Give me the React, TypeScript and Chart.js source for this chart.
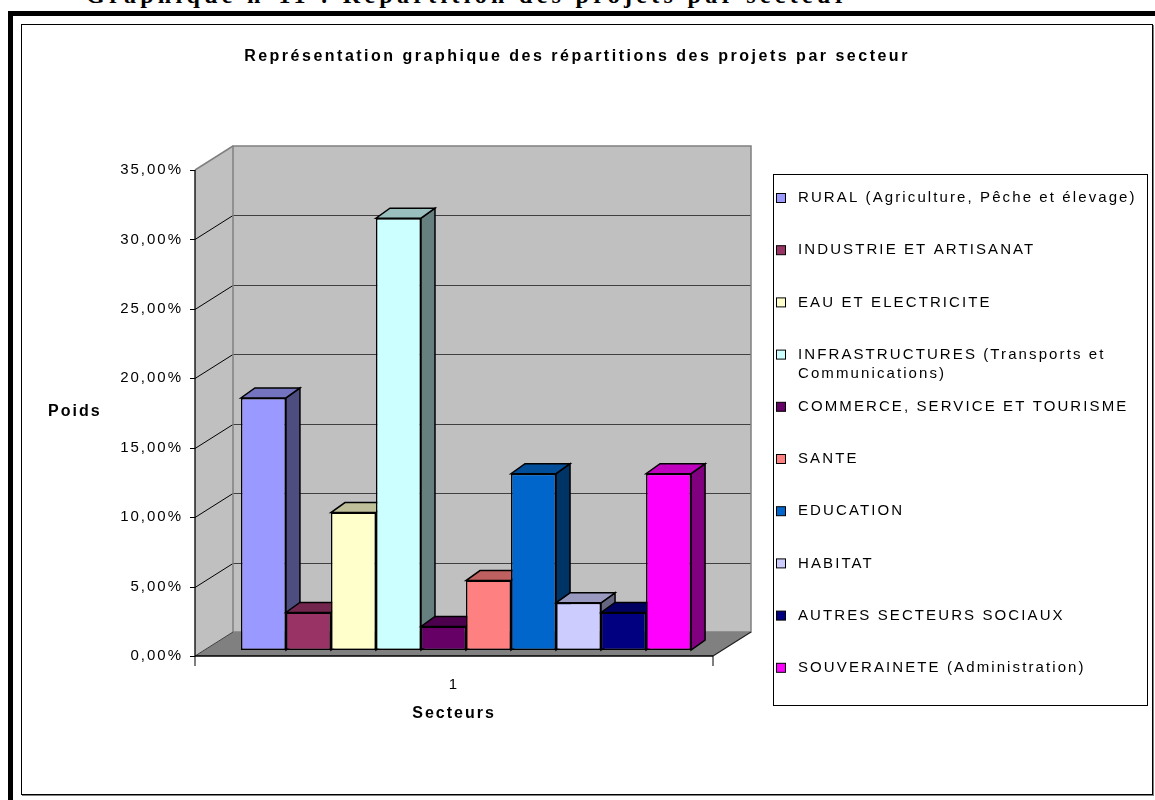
import React, { useEffect, useRef } from 'react';
import { Chart, registerables } from 'chart.js';

Chart.register(...registerables);

// ---------- data ----------
const pageHeading = 'Graphique n°11 : Répartition des projets par secteur';
const chartTitle = 'Représentation graphique des répartitions des projets par secteur';
const yAxisTitle = 'Poids';
const xAxisTitle = 'Secteurs';
const categories = ['1'];
const sectorLabels = [
  'RURAL (Agriculture, Pêche et élevage)',
  'INDUSTRIE ET ARTISANAT',
  'EAU ET ELECTRICITE',
  'INFRASTRUCTURES (Transports et\nCommunications)',
  'COMMERCE, SERVICE ET TOURISME',
  'SANTE',
  'EDUCATION',
  'HABITAT',
  'AUTRES SECTEURS SOCIAUX',
  'SOUVERAINETE (Administration)',
];
const sectorWeights = [0.1815, 0.027, 0.099, 0.311, 0.017, 0.05, 0.127, 0.034, 0.027, 0.127];
const sectorColors = [
  '#9999FF', '#993366', '#FFFFCC', '#CCFFFF', '#660066',
  '#FF8080', '#0066CC', '#CCCCFF', '#000080', '#FF00FF',
];
const yMin = 0;
const yMax = 0.35;
const yStep = 0.05;

// ---------- style / geometry ----------
const FONT = "'Liberation Sans', Arial, sans-serif";
const WALL = { dx: 38, dy: -24 };
const BAR_SHIFT = { dx: 12, dy: -6 };
const BAR_DEPTH = { dx: 14, dy: -10 };
const LEGEND_BOX = { x: 773, y: 174, w: 374, h: 531 };

function shade(hex: string, f: number) {
  const n = parseInt(hex.slice(1), 16);
  const r = Math.round(((n >> 16) & 255) * f);
  const g = Math.round(((n >> 8) & 255) * f);
  const b = Math.round((n & 255) * f);
  return `rgb(${r},${g},${b})`;
}

function fmtPct(v: number) {
  return (v * 100).toFixed(2).replace('.', ',') + '%';
}

function poly(ctx: CanvasRenderingContext2D, pts: number[][], fill?: string, stroke?: string, lw = 1) {
  ctx.beginPath();
  pts.forEach(([x, y], i) => (i ? ctx.lineTo(x, y) : ctx.moveTo(x, y)));
  ctx.closePath();
  if (fill) { ctx.fillStyle = fill; ctx.fill(); }
  if (stroke) { ctx.strokeStyle = stroke; ctx.lineWidth = lw; ctx.stroke(); }
}

function line(ctx: CanvasRenderingContext2D, x1: number, y1: number, x2: number, y2: number, color: string, lw = 1) {
  ctx.beginPath();
  ctx.moveTo(x1, y1);
  ctx.lineTo(x2, y2);
  ctx.strokeStyle = color;
  ctx.lineWidth = lw;
  ctx.stroke();
}

const excel3d = {
  id: 'excel3d',
  beforeDraw(chart: any) {
    (chart.ctx as any).letterSpacing = '2px';
  },
  beforeDatasetsDraw(chart: any) {
    const ctx: CanvasRenderingContext2D = chart.ctx;
    const a = chart.chartArea;
    const ys = chart.scales.y;
    const L = a.left, R = a.right;
    const y0 = ys.getPixelForValue(yMin);
    const yT = ys.getPixelForValue(yMax);
    const { dx, dy } = WALL;
    ctx.save();
    // side wall
    poly(ctx, [[L, y0], [L, yT], [L + dx, yT + dy], [L + dx, y0 + dy]], '#c0c0c0');
    // back wall
    ctx.fillStyle = '#c0c0c0';
    ctx.fillRect(L + dx, yT + dy, R - L, y0 - yT);
    // floor
    poly(ctx, [[L, y0], [R, y0], [R + dx, y0 + dy], [L + dx, y0 + dy]], '#808080');
    // grid lines
    ys.ticks.forEach((t: any) => {
      if (t.value <= yMin || t.value >= yMax) return;
      const py = Math.round(ys.getPixelForValue(t.value)) + 0.5;
      line(ctx, L, py, L + dx, py + dy, '#000', 1);
      line(ctx, L + dx, py + dy, R + dx, py + dy, '#404040', 1.2);
    });
    // wall outlines
    line(ctx, L, yT, L + dx, yT + dy, '#808080', 1.5);
    ctx.strokeStyle = '#808080';
    ctx.lineWidth = 1.5;
    ctx.strokeRect(L + dx, yT + dy, R - L, y0 - yT);
    // floor edges
    line(ctx, L, y0, L + dx, y0 + dy, '#404040', 1);
    line(ctx, R, y0, R + dx, y0 + dy, '#202020', 1.2);
    // front axes
    line(ctx, L, yT, L, y0, '#000', 1.3);
    ys.ticks.forEach((t: any) => {
      const py = Math.round(ys.getPixelForValue(t.value)) + 0.5;
      line(ctx, L - 5, py, L, py, '#000', 1);
    });
    line(ctx, L, y0, R, y0, '#000', 1.3);
    line(ctx, L, y0, L, y0 + 10, '#000', 1);
    line(ctx, R, y0, R, y0 + 10, '#000', 1);
    ctx.restore();

    // bars, left to right, with 3D top and side faces
    ctx.save();
    ctx.translate(BAR_SHIFT.dx, BAR_SHIFT.dy);
    const bd = BAR_DEPTH;
    chart.data.datasets.forEach((ds: any, i: number) => {
      const meta = chart.getDatasetMeta(i);
      if (meta.hidden) return;
      const col = ds.backgroundColor as string;
      meta.data.forEach((el: any) => {
        const { x, y, base, width } = el.getProps(['x', 'y', 'base', 'width'], true);
        const l = x - width / 2, r = x + width / 2;
        const top = Math.min(y, base), bot = Math.max(y, base);
        poly(ctx, [[r, top], [r + bd.dx, top + bd.dy], [r + bd.dx, bot + bd.dy], [r, bot]], shade(col, 0.5), '#000', 1.5);
        poly(ctx, [[l, top], [r, top], [r + bd.dx, top + bd.dy], [l + bd.dx, top + bd.dy]], shade(col, 0.75), '#000', 1.5);
        el.draw(ctx);
      });
    });
    ctx.restore();
    return false;
  },
  afterDraw(chart: any) {
    const ctx: any = chart.ctx;
    const a = chart.chartArea;
    ctx.save();
    // chart title
    ctx.letterSpacing = '2.5px';
    ctx.fillStyle = '#000';
    ctx.font = `bold 16px ${FONT}`;
    ctx.textAlign = 'center';
    ctx.textBaseline = 'middle';
    ctx.fillText(chartTitle, 577, 57);
    // y axis title (horizontal)
    ctx.letterSpacing = '2px';
    ctx.textAlign = 'left';
    ctx.fillText(yAxisTitle, 48, (a.top + a.bottom) / 2 - 1);
    // legend
    const b = LEGEND_BOX;
    ctx.fillStyle = '#fff';
    ctx.fillRect(b.x, b.y, b.w, b.h);
    ctx.strokeStyle = '#000';
    ctx.lineWidth = 1;
    ctx.strokeRect(b.x + 0.5, b.y + 0.5, b.w, b.h);
    ctx.font = `15px ${FONT}`;
    ctx.letterSpacing = '2.1px';
    const step = 52.2;
    chart.data.datasets.forEach((ds: any, i: number) => {
      const cy = b.y + 24 + i * step;
      ctx.fillStyle = ds.backgroundColor;
      ctx.fillRect(b.x + 3.5, cy - 4.5, 9, 9);
      ctx.strokeStyle = '#000';
      ctx.strokeRect(b.x + 3.5, cy - 4.5, 9, 9);
      ctx.fillStyle = '#000';
      String(ds.label).split('\n').forEach((ln: string, k: number) => {
        ctx.fillText(ln, b.x + 25, cy + k * 19.5);
      });
    });
    ctx.restore();
  },
};

export default function App() {
  const ref = useRef<HTMLCanvasElement>(null);
  useEffect(() => {
    if (!ref.current) return;
    const chart = new Chart(ref.current, {
      type: 'bar',
      data: {
        labels: categories,
        datasets: sectorLabels.map((label, i) => ({
          label,
          data: [sectorWeights[i]],
          backgroundColor: sectorColors[i],
          borderColor: '#000',
          borderWidth: 1.5,
          borderSkipped: false,
          categoryPercentage: 0.869,
          barPercentage: 1,
        })),
      },
      options: {
        responsive: false,
        animation: false,
        events: [],
        layout: { padding: { left: 100, right: 442, top: 170, bottom: 44 } },
        plugins: { legend: { display: false }, title: { display: false }, tooltip: { enabled: false } },
        scales: {
          x: {
            grid: { display: false, drawTicks: false },
            border: { display: false },
            ticks: { padding: 20, color: '#000', font: { family: FONT, size: 15 } },
            title: {
              display: true,
              text: xAxisTitle,
              color: '#000',
              font: { family: FONT, size: 16, weight: 'bold' },
              padding: { top: 0, bottom: 33 },
            },
            afterFit: (s: any) => { s.height = 100; },
          } as any,
          y: {
            min: yMin,
            max: yMax,
            grid: { display: false, drawTicks: false },
            border: { display: false },
            ticks: {
              stepSize: yStep,
              padding: 12,
              color: '#000',
              font: { family: FONT, size: 15 },
              callback: (v: any) => fmtPct(Number(v)),
            },
            afterFit: (s: any) => { s.width = 95; },
          } as any,
        },
      },
      plugins: [excel3d as any],
    });
    return () => chart.destroy();
  }, []);

  return (
    <div style={{ position: 'absolute', left: 0, top: 0, width: 1155, height: 800, overflow: 'hidden', background: '#fff' }}>
      <div
        style={{
          position: 'absolute', left: 86, top: -17, whiteSpace: 'nowrap',
          font: "bold 24px 'Liberation Serif', 'Times New Roman', serif", lineHeight: '24px', letterSpacing: '4.3px', color: '#000',
        }}
      >
        {pageHeading}
      </div>
      <div style={{ position: 'absolute', left: 8, top: 11, width: 1147, height: 5, background: '#000' }} />
      <div style={{ position: 'absolute', left: 8, top: 11, width: 5, height: 789, background: '#000' }} />
      <div style={{ position: 'absolute', left: 21, top: 24, width: 1130, height: 769, border: '1px solid #000', boxShadow: '1px 1px 0 #808080' }} />
      <canvas ref={ref} width={1155} height={800} style={{ position: 'absolute', left: 0, top: 0 }} />
    </div>
  );
}
